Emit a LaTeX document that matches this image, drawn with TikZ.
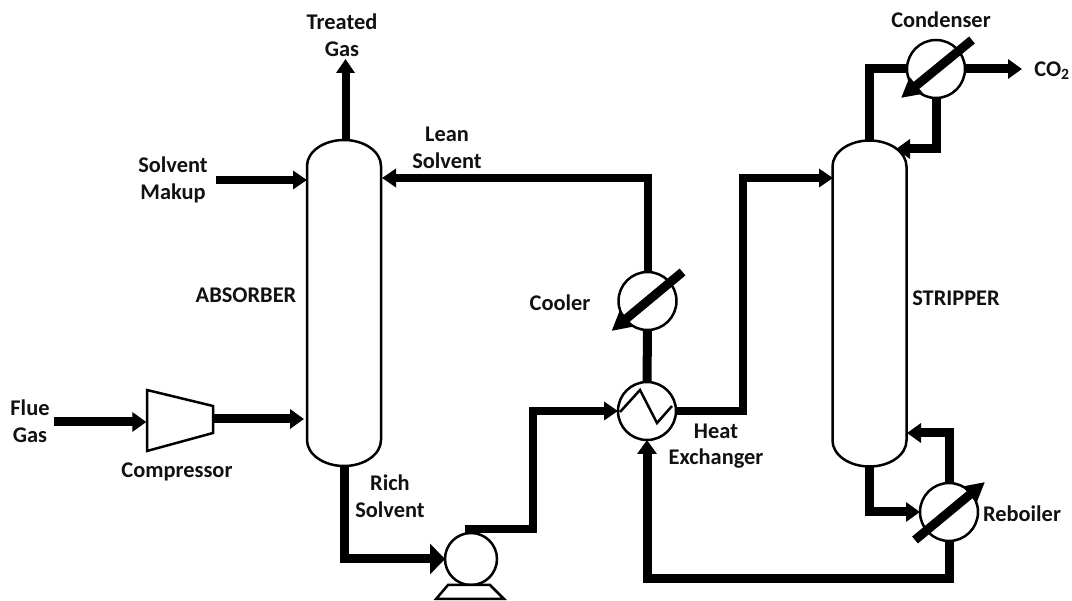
\documentclass[tikz,border=0pt]{standalone}
\usepackage{fontspec}
\setmainfont{Carlito}
\usepackage{xcolor}
\usepackage{tikz}
\usetikzlibrary{arrows.meta,calc}
\definecolor{cLine}{HTML}{000000}
\definecolor{cText}{HTML}{111111}
\tikzset{
  pipe/.style={line width=9pt, cLine},
  arr/.style={pipe, -{Triangle[length=14pt,width=19pt]}},
  thinarr/.style={line width=8pt, cLine, -{Triangle[length=14pt,width=18pt]}},
  bigarr/.style={pipe, -{Triangle[length=15pt,width=30pt]}},
  unit/.style={draw=cLine, line width=2.5pt, circle, fill=white, minimum size=58pt, inner sep=0pt, outer sep=0pt},
  vessel/.style={minimum width=74pt, minimum height=326pt, inner sep=0pt, outer sep=0pt},
  shell/.style={draw=cLine, line width=2.5pt, fill=white},
  lbl/.style={font=\fontsize{22.4}{26.5}\selectfont\bfseries, text=cText, align=center, inner sep=0pt},
  cross/.style={line width=9pt, cLine, -{Triangle[length=20pt,width=20pt]}}
}
\newcommand{\vesselbody}[1]{
  \draw[shell] ($(#1.north west)+(0,26)$) arc[start angle=180, end angle=0, x radius=37, y radius=-26]
    -- ($(#1.south east)+(0,-26)$) arc[start angle=0, end angle=-180, x radius=37, y radius=-26] -- cycle;
}
\begin{document}
\begin{tikzpicture}[x=1pt, y=-1pt]
\useasboundingbox (0,0) rectangle (1072,601);
% ----- Columns -----
\node[vessel] (absorber) at (344,303) {};
\node[vessel] (stripper) at (869.5,303.5) {};
\vesselbody{absorber}
\vesselbody{stripper}
% ----- Units -----
\node[unit] (cooler) at (647.5,301) {};
\node[unit] (hx) at (647,411) {};
\node[unit] (condenser) at (936,69) {};
\node[unit] (reboiler) at (949,512) {};
\node[unit, minimum size=52pt] (pump) at (471,559) {};
\draw[shell, line join=miter] (448,585) -- (490,585) -- (504,599) -- (436,599) -- cycle;
\node[draw=none, inner sep=0pt] (compin) at (147,422) {};
\node[draw=none, inner sep=0pt] (compout) at (213,419) {};
\draw[shell] (147,390) -- (213,406) -- (213,433) -- (147,451) -- cycle;
% ----- Free ends -----
\coordinate (gasin) at (345.5,140);
\coordinate (gasout) at (345.5,59);
\coordinate (makeup) at (216,180);
\coordinate (makeupin) at (307,180);
\coordinate (flue) at (54,422);
\coordinate (comptip) at (304,419);
\coordinate (leanin) at (382,178);
\coordinate (feedin) at (833,178);
\coordinate (riser) at (743,300);
\coordinate (pumpout) at (465,529);
\coordinate (pumpup) at (533,470);
\coordinate (return) at (647,579);
\coordinate (co2tip) at (1022,69);
\coordinate (condret) at (896,149);
\coordinate (rebret) at (907,433);
% ----- Pipes -----
\draw[thinarr] (gasin) -- (gasout);
\draw[thinarr] (makeup) -- (makeupin);
\draw[arr] (flue) -- (compin);
\draw[arr] (compout) -- (comptip);
\draw[bigarr] (absorber.south) |- (pump.west);
\draw[thinarr] (cooler.north) |- (leanin);
\draw[pipe] (hx.north) -- (cooler.south);
\draw[thinarr] (pumpout) -| (pumpup) |- (hx.west);
\draw[thinarr] (hx.east) -| (riser) |- (feedin);
\draw[arr] (reboiler.south) |- (return) -- (hx.south);
\draw[pipe] (stripper.north) |- (condenser.west);
\draw[arr] (condenser.east) -- (co2tip);
\draw[arr] (condenser.south) |- (condret);
\draw[arr] (stripper.south) |- (reboiler.west);
\draw[arr] (reboiler.north) |- (rebret);
% ----- Crossing arrows -----
\draw[cross] ($(cooler)+(35,-29)$) -- ($(cooler)+(-36,30)$);
\draw[cross] ($(condenser)+(36,-29)$) -- ($(condenser)+(-35,29)$);
\draw[cross] ($(reboiler)+(-34,28)$) -- ($(reboiler)+(36,-30)$);
\draw[line width=2.5pt, cLine] ($(hx)+(-27,1)$) -- ($(hx)+(-7,-21)$) -- ($(hx)+(10,12)$) -- ($(hx)+(25,-5)$);
% ----- Labels -----
\node[lbl] (ltreated) at (342,35) {Treated\\Gas};
\node[lbl] (lmakeup) at (173,180) {Solvent\\Makup};
\node[lbl] (llean) at (447,148) {Lean\\Solvent};
\node[lbl] (labsorber) at (246,295) {ABSORBER};
\node[lbl] (lflue) at (30,421) {Flue\\Gas};
\node[lbl] (lcomp) at (177,472) {Compressor};
\node[lbl] (lrich) at (390,496) {Rich\\Solvent};
\node[lbl] (lcooler) at (560,303) {Cooler};
\node[lbl] (lhx) at (716,446) {Heat\\Exchanger};
\node[lbl] (lstripper) at (956,298) {STRIPPER};
\node[lbl] (lcond) at (941,20) {Condenser};
\node[lbl] (lco2) at (1052,71) {CO\textsubscript{2}};
\node[lbl] (lreb) at (1022,514) {Reboiler};
\end{tikzpicture}
\end{document}
